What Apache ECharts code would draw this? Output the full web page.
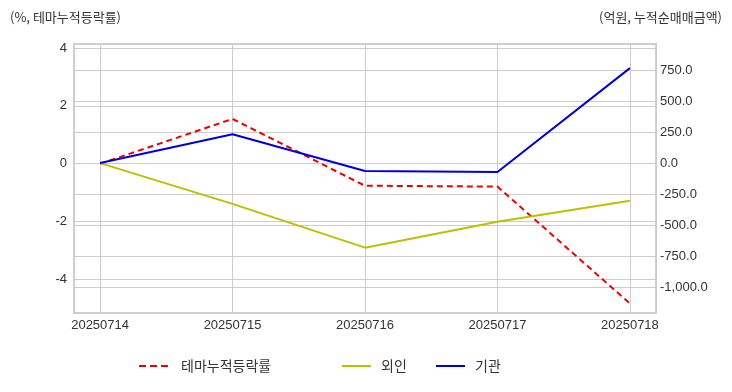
<!DOCTYPE html>
<html><head><meta charset="utf-8">
<script src="https://cdn.jsdelivr.net/npm/echarts@6/dist/echarts.min.js"></script>
<style>html,body{margin:0;padding:0;background:#fff}#c{width:732px;height:392px}</style>
</head><body><div id="c"></div>
<script>
const dates = ['20250714','20250715','20250716','20250717','20250718'];
const themeReturn = [0, 1.55, -0.76, -0.79, -4.83];
const foreign = [0, -328, -681, -473, -304];
const institution = [0, 232, -64, -72, 765];
const leftTicks = [-4, -2, 0, 2, 4];
const rightTicks = [-1000, -750, -500, -250, 0, 250, 500, 750];

const FONT = "'Liberation Sans', 'Noto Sans CJK KR', sans-serif";
const KFONT = "'Noto Sans CJK KR', sans-serif";
const pts = arr => arr.map((v, i) => [i, v]);
const fmtRight = v => {
  if (!rightTicks.includes(Math.round(v * 1000) / 1000)) return '';
  return v.toLocaleString('en-US', {minimumFractionDigits: 1, maximumFractionDigits: 1});
};
const fmtLeft = v => leftTicks.includes(Math.round(v * 1000) / 1000) ? String(v) : '';
const legendBase = {top: 359, padding: 0, itemWidth: 29, itemHeight: 10,
  itemStyle: {opacity: 0},
  textStyle: {fontSize: 14, color: '#333', fontFamily: KFONT}};

const chart = echarts.init(document.getElementById('c'));
chart.setOption({
  animation: false,
  textStyle: {fontFamily: FONT},
  title: [
    {text: '(%, 테마누적등락률)', left: 5, top: 6, textStyle: {fontSize: 13, fontWeight: 'normal', color: '#333', fontFamily: KFONT}},
    {text: '(억원, 누적순매매금액)', right: 5, top: 6, textStyle: {fontSize: 13, fontWeight: 'normal', color: '#333', fontFamily: KFONT}}
  ],
  grid: {left: 74, right: 76, top: 44, bottom: 79, show: true, borderColor: '#d0d0d0', borderWidth: 2, backgroundColor: 'transparent'},
  xAxis: {
    type: 'value', min: -0.197, max: 4.197, minInterval: 1, maxInterval: 1,
    axisLine: {show: false}, axisTick: {show: false},
    axisLabel: {color: '#333', fontSize: 13, margin: 6, showMinLabel: false, showMaxLabel: false,
      formatter: v => (Number.isInteger(v) && dates[v]) ? dates[v] : ''},
    splitLine: {show: true, lineStyle: {color: '#cccccc', width: 1}}
  },
  yAxis: [
    {type: 'value', position: 'left', min: -5.16, max: 4.14, minInterval: 2, maxInterval: 2,
      axisLine: {show: false}, axisTick: {show: false},
      axisLabel: {color: '#333', fontSize: 13, margin: 7, showMinLabel: false, showMaxLabel: false, formatter: fmtLeft},
      splitLine: {show: true, lineStyle: {color: '#cccccc', width: 1}}},
    {type: 'value', position: 'right', min: -1207, max: 959, minInterval: 250, maxInterval: 250,
      axisLine: {show: false}, axisTick: {show: false},
      axisLabel: {color: '#333', fontSize: 13, margin: 4, showMinLabel: false, showMaxLabel: false, formatter: fmtRight},
      splitLine: {show: true, lineStyle: {color: '#cccccc', width: 1}}}
  ],
  legend: [
    Object.assign({}, legendBase, {data: ['테마누적등락률'], left: 138, lineStyle: {width: 2, type: [7, 4]},
      textStyle: Object.assign({}, legendBase.textStyle, {padding: [0,0,0,8]})}),
    Object.assign({}, legendBase, {data: ['외인'], left: 341, lineStyle: {width: 2},
      textStyle: Object.assign({}, legendBase.textStyle, {padding: [0,0,0,5]})}),
    Object.assign({}, legendBase, {data: ['기관'], left: 435, lineStyle: {width: 2},
      textStyle: Object.assign({}, legendBase.textStyle, {padding: [0,0,0,5]})})
  ],
  series: [
    {name: '테마누적등락률', type: 'line', yAxisIndex: 0, data: pts(themeReturn), symbol: 'none',
      itemStyle: {color: '#ee0000'}, lineStyle: {color: '#ee0000', width: 2, type: [6, 4]}},
    {name: '외인', type: 'line', yAxisIndex: 1, data: pts(foreign), symbol: 'none',
      itemStyle: {color: '#bfbf00'}, lineStyle: {color: '#bfbf00', width: 2}},
    {name: '기관', type: 'line', yAxisIndex: 1, data: pts(institution), symbol: 'none',
      itemStyle: {color: '#0000dd'}, lineStyle: {color: '#0000dd', width: 2}}
  ]
});
</script></body></html>
